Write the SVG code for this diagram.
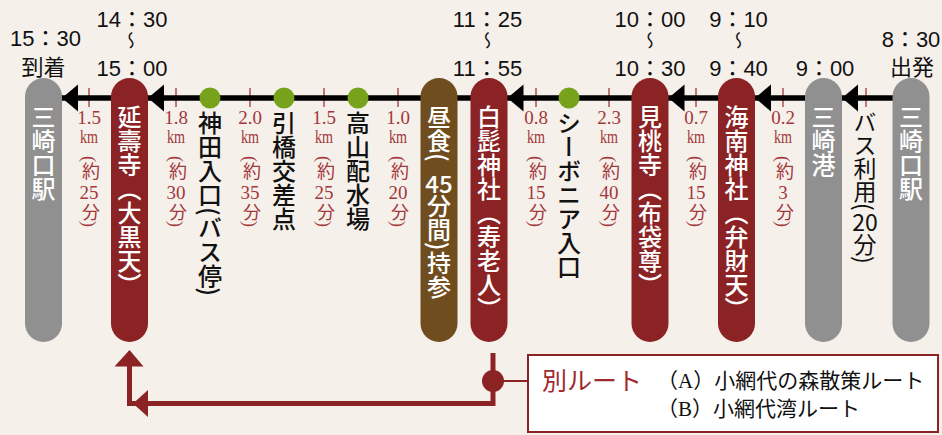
<svg xmlns="http://www.w3.org/2000/svg" xmlns:xlink="http://www.w3.org/1999/xlink" width="942" height="435" viewBox="0 0 942 435">
<style>
.vt{writing-mode:vertical-rl;font-family:"Noto Sans CJK JP","Noto Sans",sans-serif}
.red{fill:#8b2224}
.gray{fill:#909090}
.brown{fill:#6f4d1f}
.wt{fill:#fff;font-size:24px;font-weight:500}
.bt{fill:#111;font-size:24px;font-weight:500}
.bus{fill:#111;font-size:23px;font-weight:400}
.hz{font-family:"Noto Sans CJK JP","Noto Sans",sans-serif;text-anchor:middle}
.time{font-family:"Liberation Sans","Noto Sans CJK JP",sans-serif;font-size:22px;text-anchor:middle;fill:#111}
.wave{writing-mode:vertical-rl;font-family:"Noto Sans CJK JP",sans-serif;font-size:18px;fill:#111}
.dist{fill:#a3383b;font-family:"Liberation Serif","Noto Sans CJK JP",serif;font-size:19px;text-anchor:middle}
.km{fill:#a3383b;font-family:"Liberation Serif",serif;font-size:18px;text-anchor:middle}
.distv{fill:#a3383b;font-family:"Liberation Serif","Noto Sans CJK JP",serif;font-size:18px;writing-mode:vertical-rl}
.tick{stroke:#a3383b;stroke-width:1.3}
.dot{fill:#76a21c}
</style>
<defs>
<path id="ah" d="M0,0 L16,-13.5 L16,13.5 Z" fill="#000"/>
</defs>
<rect width="942" height="435" fill="#f6f0eb"/>

<g id="connectors">
  <g id="ticks">
    <line class="tick" x1="89" y1="88" x2="89" y2="107"/>
    <line class="tick" x1="176" y1="88" x2="176" y2="107"/>
    <line class="tick" x1="250" y1="88" x2="250" y2="107"/>
    <line class="tick" x1="324" y1="88" x2="324" y2="107"/>
    <line class="tick" x1="398" y1="88" x2="398" y2="107"/>
    <line class="tick" x1="536" y1="88" x2="536" y2="107"/>
    <line class="tick" x1="609" y1="88" x2="609" y2="107"/>
    <line class="tick" x1="696" y1="88" x2="696" y2="107"/>
    <line class="tick" x1="783" y1="88" x2="783" y2="107"/>
    <line class="tick" x1="866" y1="88" x2="866" y2="107"/>
  </g>
  <line x1="50" y1="98" x2="900" y2="98" stroke="#000" stroke-width="5.5"/>
  <use xlink:href="#ah" x="62" y="98"/>
  <use xlink:href="#ah" x="148" y="98"/>
  <use xlink:href="#ah" x="507.5" y="98"/>
  <use xlink:href="#ah" x="668.5" y="98"/>
  <use xlink:href="#ah" x="755" y="98"/>
  <use xlink:href="#ah" x="842" y="98"/>

  <g id="distances">
    <text class="dist" x="89" y="124">1.5</text><text class="km" x="89" y="143" textLength="18" lengthAdjust="spacingAndGlyphs">km</text>
    <text class="distv" x="89" y="156">(約</text><text class="dist" x="89" y="199">25</text><text class="distv" x="89" y="203">分)</text>

    <text class="dist" x="176" y="124">1.8</text><text class="km" x="176" y="143" textLength="18" lengthAdjust="spacingAndGlyphs">km</text>
    <text class="distv" x="176" y="156">(約</text><text class="dist" x="176" y="199">30</text><text class="distv" x="176" y="203">分)</text>

    <text class="dist" x="250" y="124">2.0</text><text class="km" x="250" y="143" textLength="18" lengthAdjust="spacingAndGlyphs">km</text>
    <text class="distv" x="250" y="156">(約</text><text class="dist" x="250" y="199">35</text><text class="distv" x="250" y="203">分)</text>

    <text class="dist" x="324" y="124">1.5</text><text class="km" x="324" y="143" textLength="18" lengthAdjust="spacingAndGlyphs">km</text>
    <text class="distv" x="324" y="156">(約</text><text class="dist" x="324" y="199">25</text><text class="distv" x="324" y="203">分)</text>

    <text class="dist" x="398" y="124">1.0</text><text class="km" x="398" y="143" textLength="18" lengthAdjust="spacingAndGlyphs">km</text>
    <text class="distv" x="398" y="156">(約</text><text class="dist" x="398" y="199">20</text><text class="distv" x="398" y="203">分)</text>

    <text class="dist" x="536" y="124">0.8</text><text class="km" x="536" y="143" textLength="18" lengthAdjust="spacingAndGlyphs">km</text>
    <text class="distv" x="536" y="156">(約</text><text class="dist" x="536" y="199">15</text><text class="distv" x="536" y="203">分)</text>

    <text class="dist" x="609" y="124">2.3</text><text class="km" x="609" y="143" textLength="18" lengthAdjust="spacingAndGlyphs">km</text>
    <text class="distv" x="609" y="156">(約</text><text class="dist" x="609" y="199">40</text><text class="distv" x="609" y="203">分)</text>

    <text class="dist" x="696" y="124">0.7</text><text class="km" x="696" y="143" textLength="18" lengthAdjust="spacingAndGlyphs">km</text>
    <text class="distv" x="696" y="156">(約</text><text class="dist" x="696" y="199">15</text><text class="distv" x="696" y="203">分)</text>

    <text class="dist" x="783" y="124">0.2</text><text class="km" x="783" y="143" textLength="18" lengthAdjust="spacingAndGlyphs">km</text>
    <text class="distv" x="783" y="156">(約</text><text class="dist" x="783" y="199">3</text><text class="distv" x="783" y="203">分)</text>

    <text class="vt bus" x="865" y="111">バス利用(</text>
    <text class="hz bus" x="865" y="231">20</text>
    <text class="vt bus" x="865" y="233">分)</text>
  </g>

  <g id="return-route">
    <path d="M493,353 V403.5 H129.5 V362" fill="none" stroke="#8b2224" stroke-width="5"/>
    <polygon points="129.5,350 114.5,366.5 143.5,366.5" fill="#8b2224"/>
    <polygon points="133,403.5 148,390 148,417" fill="#8b2224"/>
    <line x1="493" y1="381" x2="529" y2="381" stroke="#8b2224" stroke-width="2"/>
    <circle cx="493" cy="381" r="11" fill="#8b2224"/>
  </g>
</g>

<g id="times">
  <text class="time" x="45.5" y="46">15：30</text>
  <text class="time" x="43.5" y="75">到着</text>
  <text class="time" x="132" y="27">14：30</text>
  <text class="wave" x="131" y="31">〜</text>
  <text class="time" x="132" y="76">15：00</text>
  <text class="time" x="487.5" y="27">11：25</text>
  <text class="wave" x="487.5" y="31">〜</text>
  <text class="time" x="487.5" y="76">11：55</text>
  <text class="time" x="650" y="27">10：00</text>
  <text class="wave" x="650" y="31">〜</text>
  <text class="time" x="650" y="76">10：30</text>
  <text class="time" x="738.5" y="27">9：10</text>
  <text class="wave" x="738.5" y="31">〜</text>
  <text class="time" x="738.5" y="76">9：40</text>
  <text class="time" x="825" y="76">9：00</text>
  <text class="time" x="911" y="47">8：30</text>
  <text class="time" x="912" y="75">出発</text>
</g>

<g id="node-misakiguchi-goal">
  <rect class="gray" x="25" y="78" width="37" height="264" rx="18.5"/>
  <text class="vt wt" x="43.5" y="105">三崎口駅</text>
</g>
<g id="node-enjuji">
  <rect class="red" x="111" y="78" width="37" height="264" rx="18.5"/>
  <text class="vt wt" x="129.5" y="105">延壽寺（大黒天）</text>
</g>
<g id="node-kandairiguchi">
  <circle class="dot" cx="210" cy="98" r="10.5"/>
  <text class="vt bt" x="210" y="111">神田入口(バス停)</text>
</g>
<g id="node-hikihashi">
  <circle class="dot" cx="284" cy="98" r="10.5"/>
  <text class="vt bt" x="284" y="111">引橋交差点</text>
</g>
<g id="node-takayama">
  <circle class="dot" cx="358" cy="98" r="10.5"/>
  <text class="vt bt" x="358" y="111">高山配水場</text>
</g>
<g id="node-lunch">
  <rect class="brown" x="420.5" y="78" width="37" height="264" rx="18.5"/>
  <text class="vt wt" x="439" y="105">昼食(</text>
  <text class="hz wt" x="439" y="193">45</text>
  <text class="vt wt" x="439" y="194">分間)持参</text>
</g>
<g id="node-shirahige">
  <rect class="red" x="470.5" y="78" width="37" height="264" rx="18.5"/>
  <text class="vt wt" x="489" y="105">白髭神社（寿老人）</text>
</g>
<g id="node-seabornia">
  <circle class="dot" cx="569" cy="98" r="10.5"/>
  <text class="vt bt" x="569" y="111">シーボニア入口</text>
</g>
<g id="node-kentoji">
  <rect class="red" x="631.5" y="78" width="37" height="264" rx="18.5"/>
  <text class="vt wt" x="650" y="105">見桃寺（布袋尊）</text>
</g>
<g id="node-kainan">
  <rect class="red" x="718" y="78" width="37" height="264" rx="18.5"/>
  <text class="vt wt" x="736.5" y="105">海南神社（弁財天）</text>
</g>
<g id="node-misakiko">
  <rect class="gray" x="805" y="78" width="37" height="264" rx="18.5"/>
  <text class="vt wt" x="823.5" y="105">三崎港</text>
</g>
<g id="node-misakiguchi-start">
  <rect class="gray" x="892.5" y="78" width="37" height="264" rx="18.5"/>
  <text class="vt wt" x="911" y="105">三崎口駅</text>
</g>

<g id="node-alt-route">
  <rect x="528" y="355" width="410" height="77" fill="#fff" stroke="#8b2224" stroke-width="2"/>
  <text x="542" y="390" font-family="Liberation Serif,Noto Sans CJK JP,serif" font-size="25" fill="#a02a2e">別ルート</text>
  <text x="657" y="388" font-family="Liberation Serif,Noto Sans CJK JP,serif" font-size="21" fill="#111">（A）小網代の森散策ルート</text>
  <text x="657" y="416" font-family="Liberation Serif,Noto Sans CJK JP,serif" font-size="21" fill="#111">（B）小網代湾ルート</text>
</g>
</svg>
